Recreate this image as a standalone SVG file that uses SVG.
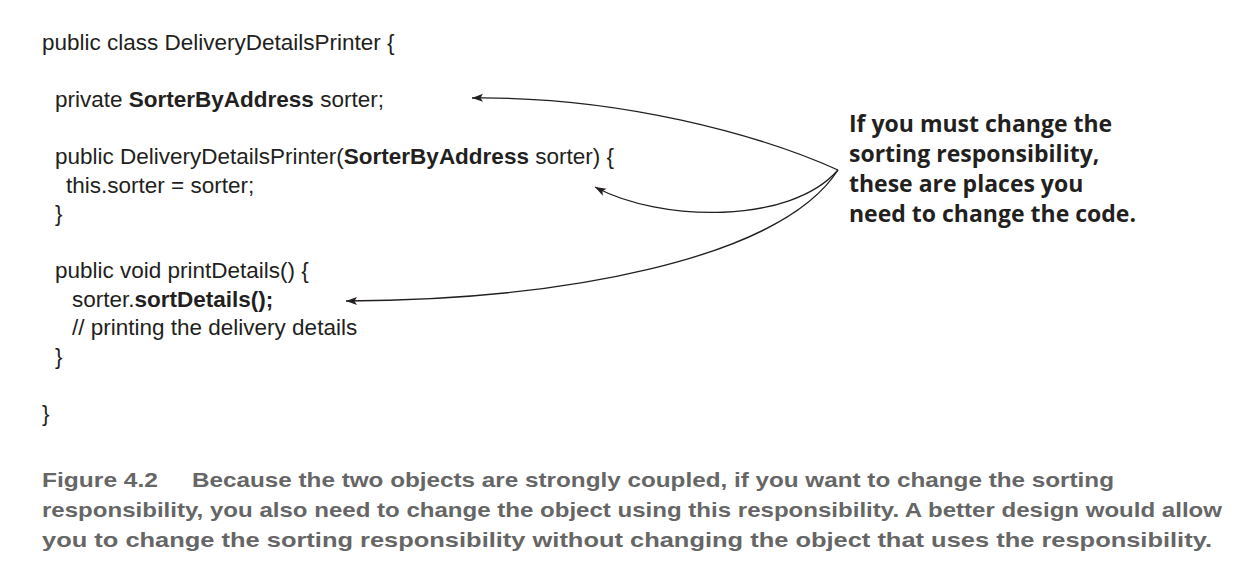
<svg xmlns="http://www.w3.org/2000/svg" width="1252" height="587" viewBox="0 0 1252 587">
  <style>
    .code { font-family: "Liberation Sans", Arial, sans-serif; font-size: 22.5px; fill: #231f20; }
    .b { font-weight: bold; }
    .note { font-family: "Open Sans", "Noto Sans", sans-serif; font-weight: bold; font-size: 23px; fill: #231f20; }
    .cap { font-family: "Liberation Sans Narrow", "Liberation Sans", Arial, sans-serif; font-weight: bold; font-size: 21px; fill: #666666; }
    .conn { fill: none; stroke: #231f20; stroke-width: 1.3; marker-end: url(#ah); }
  </style>
  <defs>
    <marker id="ah" markerUnits="userSpaceOnUse" markerWidth="12" markerHeight="9" refX="11" refY="4" orient="auto">
      <path d="M0,0 L11,4 L0,8 L2.5,4 z" fill="#231f20"/>
    </marker>
  </defs>
  <rect width="1252" height="587" fill="#ffffff"/>

  <g id="code">
    <text class="code" x="42" y="50">public class DeliveryDetailsPrinter {</text>
    <text class="code" x="55" y="107">private <tspan class="b">SorterByAddress</tspan> sorter;</text>
    <text class="code" x="55" y="164">public DeliveryDetailsPrinter(<tspan class="b">SorterByAddress</tspan> sorter) {</text>
    <text class="code" x="66" y="192.5">this.sorter = sorter;</text>
    <text class="code" x="55" y="221">}</text>
    <text class="code" x="55" y="278">public void printDetails() {</text>
    <text class="code" x="72" y="306.5">sorter.<tspan class="b">sortDetails();</tspan></text>
    <text class="code" x="72" y="335">// printing the delivery details</text>
    <text class="code" x="55" y="363.5">}</text>
    <text class="code" x="42" y="420.5">}</text>
  </g>

  <g id="note">
    <text class="note" x="849" y="132">If you must change the</text>
    <text class="note" x="849" y="162">sorting responsibility,</text>
    <text class="note" x="849" y="192">these are places you</text>
    <text class="note" x="849" y="222">need to change the code.</text>
  </g>

  <g id="connectors">
    <path class="conn" d="M838,170 C760,135 620,96 472,98"/>
    <path class="conn" d="M838,170 C790,225 660,222 595,187"/>
    <path class="conn" d="M838,170 C780,260 560,300 346,301"/>
  </g>

  <g id="caption">
    <text class="cap" x="42" y="487" textLength="116" lengthAdjust="spacingAndGlyphs">Figure 4.2</text>
    <text class="cap" x="192" y="487" textLength="922" lengthAdjust="spacingAndGlyphs">Because the two objects are strongly coupled, if you want to change the sorting</text>
    <text class="cap" x="42" y="517" textLength="1180" lengthAdjust="spacingAndGlyphs">responsibility, you also need to change the object using this responsibility. A better design would allow</text>
    <text class="cap" x="42" y="547" textLength="1170" lengthAdjust="spacingAndGlyphs">you to change the sorting responsibility without changing the object that uses the responsibility.</text>
  </g>
</svg>
